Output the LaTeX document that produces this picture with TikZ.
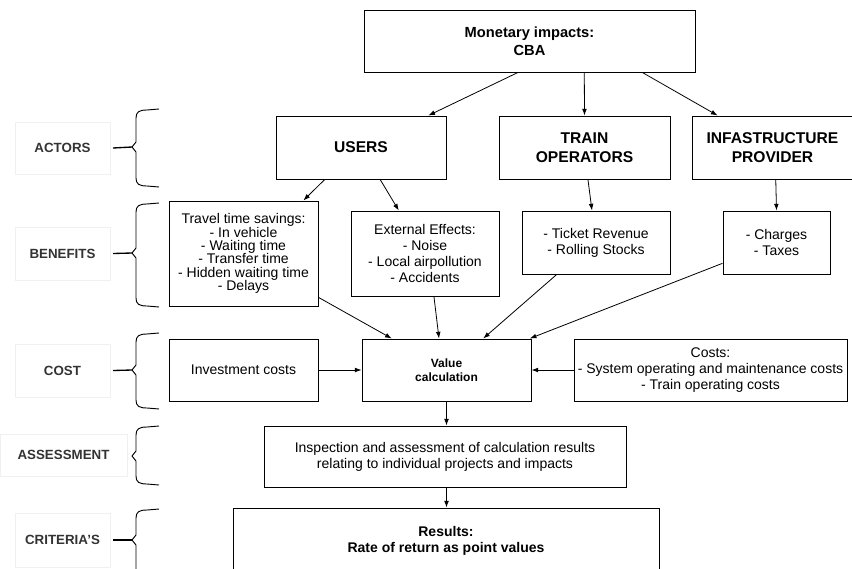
\documentclass[tikz,border=0pt]{standalone}
\usepackage{fontspec}
\setmainfont{Liberation Sans}
\usetikzlibrary{arrows.meta,calc}
\definecolor{labgray}{HTML}{333333}
\definecolor{faint}{HTML}{F0F0F0}
\newcommand\bracepath[3]{%
  \draw[brc] (159,#1) -- (147,#1+1) .. controls (139,#1+1) and (136,#1+3) .. (136,#1+9)
    -- (136,#2-5) -- (132,#2) -- (136,#2+5) -- (136,#3-9)
    .. controls (136,#3-3) and (139,#3-1) .. (147,#3-1) -- (159,#3);}
\begin{document}
\begin{tikzpicture}[x=0.75pt,y=-0.75pt,
  box/.style={draw, line width=0.75pt, inner sep=1pt, align=center,
    font=\fontsize{10.5}{12}\selectfont},
  hbox/.style={box, font=\bfseries\fontsize{11.7}{14.25}\selectfont},
  arr/.style={-{Latex[length=5pt,width=3.6pt]}, line width=0.6pt},
  brc/.style={line width=0.7pt, line join=round},
  lab/.style={draw=faint, line width=0.5pt, text=labgray,
    font=\bfseries\fontsize{10}{12}\selectfont},
  ]
\useasboundingbox (0,0) rectangle (852,568);
\clip (0,0) rectangle (852,568);

% top
\node[box, font=\bfseries\fontsize{11}{13.5}\selectfont, minimum width=248.25pt, minimum height=46.5pt]
  (cba) at (529.5,41) {Monetary impacts:\\CBA};

% actors
\node[hbox, minimum width=127.5pt, minimum height=47.25pt] (users) at (361,147.5) {USERS};
\node[hbox, minimum width=128.25pt, minimum height=47.25pt] (train) at (584.5,147.5) {TRAIN\\OPERATORS};
\node[hbox, minimum width=120.75pt, minimum height=47.25pt] (infra) at (772.5,147.5) {INFASTRUCTURE\\PROVIDER};

% benefits
\node[box, font=\fontsize{10.5}{10}\selectfont, minimum width=111.75pt, minimum height=78.75pt]
  (travel) at (243.5,253.5) {Travel time savings:\\- In vehicle\\- Waiting time\\- Transfer time\\- Hidden waiting time\\- Delays};
\node[box, minimum width=111pt, minimum height=63.75pt] (ext) at (425,253.5)
  {External Effects:\\- Noise\\- Local airpollution\\- Accidents};
\node[box, minimum width=111pt, minimum height=47.25pt] (ticket) at (596,242.5)
  {- Ticket Revenue\\- Rolling Stocks};
\node[box, minimum width=80.25pt, minimum height=47.25pt] (charges) at (776.5,242.5)
  {- Charges\\- Taxes};

% cost
\node[box, minimum width=111.75pt, minimum height=46.5pt] (invest) at (243.5,370) {Investment costs};
\node[box, font=\bfseries\fontsize{9}{10.5}\selectfont, minimum width=126.75pt, minimum height=46.5pt]
  (value) at (446.5,370) {Value\\calculation};
\node[box, minimum width=204.75pt, minimum height=46.5pt] (costs) at (710.5,370)
  {Costs:\\- System operating and maintenance costs\\- Train operating costs};

% assessment
\node[box, minimum width=271.5pt, minimum height=45.75pt] (assess) at (445,456.5)
  {Inspection and assessment of calculation results\\relating to individual projects and impacts};

% results
\node[box, font=\bfseries\fontsize{10.5}{12}\selectfont, minimum width=319.5pt, minimum height=48.75pt]
  (results) at (446,540.5) {Results:\\Rate of return as point values};

% arrows
\draw[arr] ($(cba.south west)!0.465!(cba.south east)$) -- ($(users.north west)!0.894!(users.north east)$);
\draw[arr] ($(cba.south west)!0.665!(cba.south east)$) -- (train.north);
\draw[arr] ($(cba.south west)!0.840!(cba.south east)$) -- ($(infra.north west)!0.161!(infra.north east)$);
\draw[arr] ($(users.south west)!0.288!(users.south east)$) -- ($(travel.north west)!0.899!(travel.north east)$);
\draw[arr] ($(users.south west)!0.612!(users.south east)$) -- ($(ext.north west)!0.324!(ext.north east)$);
\draw[arr] ($(train.south west)!0.52!(train.south east)$) -- ($(ticket.north west)!0.473!(ticket.north east)$);
\draw[arr] ($(infra.south west)!0.52!(infra.south east)$) -- (charges.north);
\draw[arr] ($(travel.north east)!0.914!(travel.south east)$) -- ($(value.north west)!0.178!(value.north east)$);
\draw[arr] ($(ext.south west)!0.56!(ext.south east)$) -- ($(value.north west)!0.456!(value.north east)$);
\draw[arr] ($(ticket.south west)!0.236!(ticket.south east)$) -- ($(value.north west)!0.716!(value.north east)$);
\draw[arr] ($(charges.north west)!0.825!(charges.south west)$) -- ($(value.north west)!0.99!(value.north east)$);
\draw[arr] (invest.east) -- (value.west);
\draw[arr] (costs.west) -- (value.east);
\draw[arr] (value.south) -- (value.south |- assess.north);
\draw[arr] (value.south |- assess.south) -- (value.south |- results.north);

% left labels
\node[lab, minimum width=71.25pt, minimum height=39pt] (lactors) at (62.5,148) {ACTORS};
\node[lab, minimum width=71.25pt, minimum height=39.75pt] (lbenef) at (62.5,253.5) {BENEFITS};
\node[lab, minimum width=71.25pt, minimum height=39.75pt] (lcost) at (62.5,370.5) {COST};
\node[lab, minimum width=95.25pt, minimum height=31.5pt] (lassess) at (63.5,455) {ASSESSMENT};
\node[lab, minimum width=71.25pt, minimum height=40.5pt] (lcrit) at (62.5,540) {CRITERIA'S};

% braces
\bracepath{109}{147}{187}
\bracepath{203}{253}{307}
\bracepath{333}{370}{409}
\bracepath{426}{456}{485}
\bracepath{509}{540}{610}
\coordinate (tA) at (132,147);
\coordinate (tB) at (132,253);
\coordinate (tC) at (132,370);
\coordinate (tE) at (132,540);
\draw[line width=1pt] ([xshift=2pt]lactors.east) -- (tA);
\draw[line width=1pt] ([xshift=2pt]lbenef.east) -- (tB);
\draw[line width=1pt] ([xshift=2pt]lcost.east) -- (tC);
\draw[line width=1pt] ([xshift=2pt]lcrit.east) -- (tE);
\end{tikzpicture}
\end{document}
